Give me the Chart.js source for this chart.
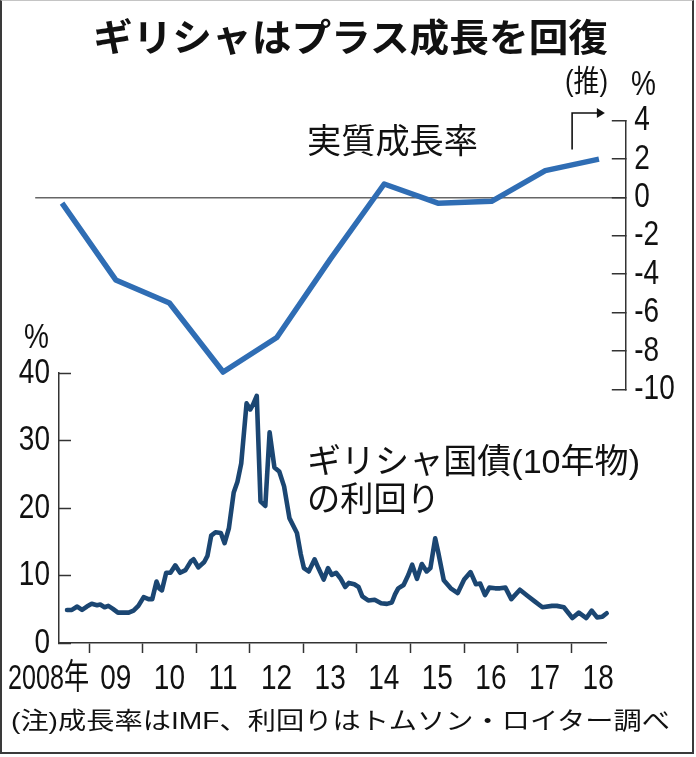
<!DOCTYPE html>
<html><head><meta charset="utf-8">
<script src="https://cdn.jsdelivr.net/npm/chart.js@4/dist/chart.umd.min.js"></script>
<style>
html,body{margin:0;padding:0;background:#fff;}
#wrap{position:relative;width:696px;height:757px;overflow:hidden;background:#fff;}
#frame{position:absolute;left:0;top:0;width:690px;height:751px;border:2px solid #3a3a3a;border-top:1px solid #c4c4c4;}
canvas{position:absolute;left:0;top:0;}
.t{position:absolute;white-space:nowrap;font-family:"Liberation Sans","Noto Sans CJK JP",sans-serif;color:#111;line-height:1;transform-origin:0 0;}
</style></head>
<body>
<div id="wrap">
  <div id="frame"></div>
  <canvas id="c2" width="696" height="757"></canvas>
  <canvas id="c1" width="696" height="757"></canvas>
  <div class="t" id="title" style="font-family:'Noto Sans CJK JP';font-weight:700;font-size:38px;top:16px;left:93px;">ギリシャはプラス成長を回復</div>
  <div class="t" id="lblGdp" style="font-size:34px;top:123.5px;left:307px;">実質成長率</div>
  <div class="t" id="lblY1" style="font-size:34px;top:443.5px;left:307px;">ギリシャ国債(10年物)</div>
  <div class="t" id="lblY2" style="font-size:34px;top:481.5px;left:307px;">の利回り</div>
  <div class="t" id="est" style="font-size:30px;top:66px;left:565px;">(推)</div>
  <div class="t" id="pctR" style="font-size:35px;top:65.4px;left:631px;">%</div>
  <div class="t" id="pctL" style="font-size:35px;top:318.4px;left:24px;">%</div>
  <div class="t" id="note" style="font-size:24px;top:709px;left:11px;">(注)成長率はIMF、利回りはトムソン・ロイター調べ</div>
</div>
<script>
// ---- data ----
const gdpYears = [2008, 2009, 2010, 2011, 2012, 2013, 2014, 2015, 2016, 2017, 2018];
const gdpValues = [-0.3, -4.3, -5.5, -9.1, -7.3, -3.2, 0.7, -0.3, -0.2, 1.4, 2.0];
const gdpTicks = [4, 2, 0, -2, -4, -6, -8, -10];

const yieldDates = [
  2008.59,2008.68,2008.78,2008.87,2008.96,
  2009.05,2009.15,2009.21,2009.29,2009.36,2009.44,2009.54,2009.61,2009.74,2009.83,2009.92,
  2010.02,2010.11,2010.18,2010.26,2010.31,2010.36,2010.44,2010.52,2010.61,2010.70,2010.80,2010.90,2010.95,
  2011.04,2011.15,2011.21,2011.28,2011.36,2011.46,2011.53,2011.61,2011.70,2011.77,2011.84,2011.94,
  2012.01,2012.06,2012.13,2012.20,2012.29,2012.37,2012.46,2012.55,2012.64,2012.74,2012.88,2012.95,
  2013.01,2013.10,2013.21,2013.28,2013.38,2013.46,2013.53,2013.61,2013.69,2013.78,2013.85,2013.95,
  2014.03,2014.10,2014.21,2014.33,2014.45,2014.56,2014.65,2014.71,2014.77,2014.87,2014.96,
  2015.03,2015.12,2015.21,2015.30,2015.37,2015.46,2015.52,2015.62,2015.75,2015.88,
  2016.00,2016.12,2016.22,2016.30,2016.39,2016.47,2016.58,2016.67,2016.77,2016.88,
  2017.04,2017.18,2017.31,2017.46,2017.64,2017.73,2017.86,
  2018.02,2018.14,2018.28,2018.38,2018.48,2018.58,2018.66
];
const yieldValues = [
  4.9,4.9,5.4,4.9,5.4,
  5.8,5.6,5.7,5.3,5.5,5.1,4.5,4.5,4.5,4.8,5.5,
  6.8,6.5,6.5,9.1,8.1,7.8,10.4,10.4,11.5,10.4,10.8,12.1,12.4,
  11.2,12.0,12.9,15.9,16.4,16.3,14.8,17.0,22.3,23.9,26.6,35.5,
  34.6,35.3,36.6,21.0,20.3,31.2,26.0,25.4,23.2,18.5,16.3,13.2,
  11.1,10.6,12.4,11.1,9.4,11.1,10.1,10.4,9.6,8.3,8.9,8.7,
  8.3,6.9,6.3,6.4,5.9,5.8,6.0,7.2,8.1,8.6,10.1,
  11.6,9.5,11.7,10.6,11.1,15.5,13.3,9.3,8.1,7.4,
  9.4,10.5,8.7,8.8,7.1,8.2,8.1,8.1,8.2,6.5,
  7.9,7.0,6.2,5.3,5.5,5.5,5.3,
  3.7,4.5,3.7,4.8,3.8,3.9,4.4
];
const yieldTicks = [0, 10, 20, 30, 40];
const axisYears = [2009, 2010, 2011, 2012, 2013, 2014, 2015, 2016, 2017, 2018];
const axisLabels = ['09', '10', '11', '12', '13', '14', '15', '16', '17', '18'];
const firstYearLabel = '2008年';
const estimateFrom = 2018;   // (推) from 2018

// ---- styling ----
const LABEL_FONT = '"Liberation Sans", "Noto Sans CJK JP", sans-serif';
const SX = 0.8;            // condensed look of the original lettering
const INK = '#111';
const AXIS = '#333';
const GDP_COLOR = '#2f6db4';
const YIELD_COLOR = '#1b4672';
const W = 696, H = 757;

function narrowText(ctx, text, x, y, align, size, fitW) {
  ctx.save();
  ctx.font = size + 'px ' + LABEL_FONT;
  ctx.fillStyle = INK;
  ctx.textAlign = align;
  ctx.textBaseline = 'middle';
  let sx = SX;
  if (fitW) sx = fitW / ctx.measureText(text).width;
  ctx.translate(x, y);
  ctx.scale(sx, 1);
  ctx.fillText(text, 0, 0);
  ctx.restore();
}

// ---------- upper chart : real GDP growth ----------
const upperDecor = {
  id: 'upperDecor',
  afterDraw(chart) {
    const xs = chart.scales.x, ys = chart.scales.y, ctx = chart.ctx;
    ys.ticks.forEach(t => narrowText(ctx, String(t.value), ys.left + 8.5, ys.getPixelForValue(t.value), 'left', 35));
    const x0 = xs.getPixelForValue(estimateFrom);
    const yLow = ys.getPixelForValue(2.5);
    const yTop = ys.getPixelForValue(4.4);
    const xTip = xs.getPixelForValue(estimateFrom + 0.61);
    ctx.save();
    ctx.strokeStyle = '#111'; ctx.fillStyle = '#111'; ctx.lineWidth = 1.6;
    ctx.beginPath();
    ctx.moveTo(x0, yLow); ctx.lineTo(x0, yTop); ctx.lineTo(xTip - 7, yTop);
    ctx.stroke();
    ctx.beginPath();
    ctx.moveTo(xTip, yTop); ctx.lineTo(xTip - 8, yTop - 5); ctx.lineTo(xTip - 8, yTop + 5); ctx.closePath();
    ctx.fill();
    ctx.restore();
  }
};

new Chart(document.getElementById('c1'), {
  type: 'line',
  data: {
    datasets: [{
      data: gdpYears.map((y, i) => ({ x: y + 0.5, y: gdpValues[i] })),
      borderColor: GDP_COLOR, borderWidth: 5.5, pointRadius: 0, tension: 0,
      borderJoinStyle: 'round', borderCapStyle: 'butt', clip: false
    }]
  },
  options: {
    responsive: false, animation: false, events: [],
    layout: { padding: { left: 35.2, right: 0, top: 120.7, bottom: H - 389.3 } },
    plugins: { legend: { display: false }, tooltip: { enabled: false } },
    scales: {
      x: { type: 'linear', min: 2008, max: 2019, display: false },
      y: {
        type: 'linear', position: 'right', min: -10, max: 4,
        afterBuildTicks: s => { s.ticks = gdpTicks.map(v => ({ value: v })); },
        afterFit: s => { s.width = W - 625.8; },
        border: { display: true, color: AXIS, width: 1.5 },
        grid: {
          drawOnChartArea: true,
          color: c => (c.tick && c.tick.value === 0) ? '#666' : 'rgba(0,0,0,0)',
          lineWidth: 1.5, tickLength: -14, tickColor: AXIS, tickWidth: 1.5
        },
        ticks: { display: false, autoSkip: false }
      }
    }
  },
  plugins: [upperDecor]
});

// ---------- lower chart : 10y bond yield ----------
const lowerDecor = {
  id: 'lowerDecor',
  afterDraw(chart) {
    const xs = chart.scales.x, ys = chart.scales.y, ctx = chart.ctx;
    ys.ticks.forEach(t => narrowText(ctx, String(t.value), ys.right - 9, ys.getPixelForValue(t.value), 'right', 35));
    const ly = xs.top + 36.5;
    axisYears.forEach((yr, i) => narrowText(ctx, axisLabels[i], xs.getPixelForValue(yr + 0.5), ly, 'center', 35));
    narrowText(ctx, firstYearLabel, xs.getPixelForValue(axisYears[0]), ly, 'right', 35, 81);
  }
};

new Chart(document.getElementById('c2'), {
  type: 'line',
  data: {
    datasets: [{
      data: yieldDates.map((d, i) => ({ x: d, y: yieldValues[i] })),
      borderColor: YIELD_COLOR, borderWidth: 4.6, pointRadius: 0, tension: 0,
      borderJoinStyle: 'round', borderCapStyle: 'round', clip: false
    }]
  },
  options: {
    responsive: false, animation: false, events: [],
    layout: { padding: { left: 0, right: W - 606.7, top: 373, bottom: 0 } },
    plugins: { legend: { display: false }, tooltip: { enabled: false } },
    scales: {
      x: {
        type: 'linear', position: 'bottom', min: 2008.44, max: 2018.66,
        afterBuildTicks: s => { s.ticks = axisYears.map(v => ({ value: v })); },
        afterFit: s => { s.height = H - 643; s.paddingLeft = 0; s.paddingRight = 0; },
        border: { display: true, color: AXIS, width: 1.5 },
        grid: { drawOnChartArea: false, tickLength: 10, tickWidth: 1.5, tickColor: AXIS },
        ticks: { display: false, autoSkip: false }
      },
      y: {
        type: 'linear', position: 'left', min: 0, max: 40,
        afterBuildTicks: s => { s.ticks = yieldTicks.map(v => ({ value: v })); },
        afterFit: s => { s.width = 59; s.paddingTop = 0; s.paddingBottom = 0; },
        border: { display: true, color: AXIS, width: 1.5 },
        grid: { drawOnChartArea: false, tickLength: -12, tickColor: AXIS, tickWidth: 1.5 },
        ticks: { display: false, autoSkip: false }
      }
    }
  },
  plugins: [lowerDecor]
});

// fit overlay text widths to the reference
function fitWidth(id, w) {
  const el = document.getElementById(id);
  const r = el.getBoundingClientRect().width;
  if (r > 0) el.style.transform = 'scaleX(' + (w / r) + ')';
}
function squeeze(id) { document.getElementById(id).style.transform = 'scaleX(' + SX + ')'; }
fitWidth('title', 515);
fitWidth('lblGdp', 171);
fitWidth('lblY1', 333);
fitWidth('lblY2', 133);
fitWidth('note', 659);
fitWidth('est', 43);
squeeze('pctR');
squeeze('pctL');
</script>
</body></html>
